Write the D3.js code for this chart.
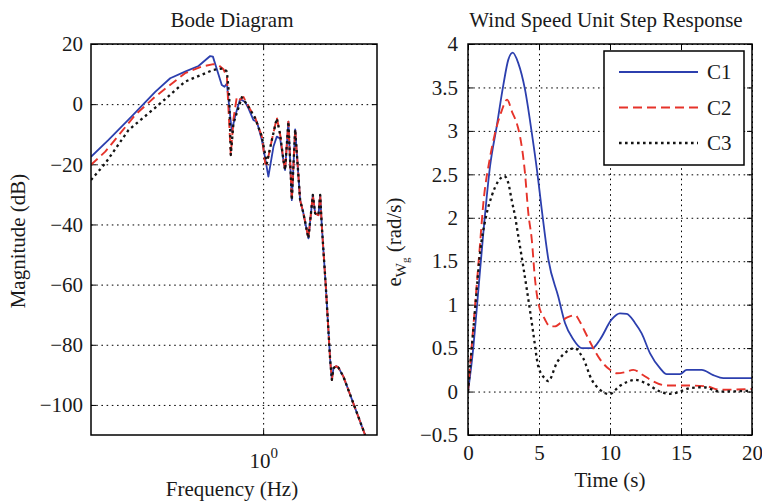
<!DOCTYPE html>
<html>
<head>
<meta charset="utf-8">
<script src="https://cdn.jsdelivr.net/npm/d3@7"></script>
<style>
  body { margin: 0; background: #fff; }
  svg { display: block; }
</style>
</head>
<body>
<svg id="chart" width="762" height="502"></svg>
<script>
// Bode magnitude, [frequency (Hz), magnitude (dB)] — low-frequency part per controller
const bodeC1Head = [
  [0.190,-17.5],[0.225,-11.9],[0.282,-4.0],[0.353,4.1],[0.408,8.6],[0.471,10.8],
  [0.536,12.7],[0.600,16.0],[0.616,15.8],[0.671,6.4],[0.689,5.8],[0.705,6.9],
  [0.721,-0.9],[0.739,-9.0],[0.763,-4.0],[0.801,1.7],[0.841,0.7],[0.868,-1.4],
  [0.911,-5.3],[0.941,-5.8],[0.988,-11.9],[1.020,-18.0],[1.052,-24.1],[1.105,-14.1],
  [1.141,-10.8],[1.178,-11.4],[1.216,-18.6]
];
const bodeC2Head = [
  [0.190,-20.2],[0.218,-15.8],[0.291,-3.6],[0.353,2.5],[0.471,10.3],[0.553,12.5],
  [0.619,13.3],[0.650,13.0],[0.682,11.6],[0.705,9.1],[0.715,-0.9],[0.732,-16.9],
  [0.751,-5.0],[0.776,2.5],[0.801,1.5],[0.827,2.4],[0.868,-0.8],[0.926,-4.5],
  [0.988,-10.8],[1.020,-19.7],[1.036,-20.0],[1.087,-12.0],[1.141,-4.5],[1.178,-10.0],
  [1.216,-18.6]
];
const bodeC3Head = [
  [0.190,-25.2],[0.218,-19.7],[0.273,-8.6],[0.364,-0.3],[0.471,7.5],[0.619,11.4],
  [0.682,11.9],[0.705,10.8],[0.721,2.5],[0.732,-16.9],[0.751,-6.4],[0.814,2.3],
  [0.868,-0.8],[0.926,-4.7],[0.988,-10.8],[1.036,-19.7],[1.087,-12.0],[1.141,-4.7],
  [1.178,-10.0],[1.216,-18.6]
];
// High-frequency part, common to all three controllers
const bodeTail = [
  [1.236,-21.9],[1.276,-5.8],[1.319,-31.9],[1.362,-8.4],[1.429,-31.9],[1.475,-36.3],
  [1.548,-44.6],[1.615,-30.2],[1.652,-36.3],[1.705,-36.9],[1.734,-30.2],[1.762,-40.7],
  [1.831,-60.7],[1.909,-85.0],[1.941,-91.7],[1.971,-87.8],[2.022,-87.1],[2.068,-87.6],
  [2.170,-90.6],[2.675,-110.0]
];

// Wind speed unit step response, [time (s), e_Wg (rad/s)]
const stepC1 = [
  [0,0],[0.37,0.5],[0.61,0.94],[1.12,1.9],[1.55,2.59],[2.02,3.05],[2.49,3.53],
  [2.84,3.82],[3.15,3.9],[3.54,3.78],[4.01,3.48],[4.49,2.98],[4.88,2.52],[5.19,2.1],
  [5.66,1.52],[6.36,1.09],[6.83,0.79],[7.42,0.6],[8.01,0.5],[8.76,0.5],[9.3,0.6],
  [10.12,0.83],[10.7,0.9],[11.18,0.895],[11.76,0.79],[12.23,0.67],[12.82,0.44],
  [13.52,0.27],[13.99,0.2],[14.93,0.2],[15.4,0.25],[16.46,0.25],[17.27,0.19],
  [17.98,0.155],[20,0.155]
];
const stepC2 = [
  [0,0],[0.49,0.98],[0.8,1.6],[1.1,2.2],[1.5,2.65],[1.9,2.97],[2.37,3.23],[2.75,3.36],
  [3.1,3.22],[3.43,3.09],[3.66,2.94],[4.01,2.52],[4.25,2.05],[4.49,1.75],[4.72,1.29],
  [4.95,1.02],[5.42,0.83],[5.77,0.75],[6.1,0.75],[6.95,0.85],[7.54,0.88],[7.89,0.8],
  [8.2,0.7],[8.82,0.5],[9.3,0.37],[10.0,0.25],[10.47,0.21],[11.0,0.22],[11.64,0.25],
  [12.32,0.19],[12.9,0.13],[13.99,0.07],[15.4,0.07],[16.8,0.06],[17.75,0.02],[20,0.03]
];
const stepC3 = [
  [0,0],[0.5,0.95],[0.85,1.6],[1.25,2.0],[1.67,2.25],[2.13,2.42],[2.55,2.48],[2.84,2.4],
  [3.08,2.2],[3.31,2.02],[3.54,1.79],[3.89,1.44],[4.25,1.06],[4.6,0.67],[4.95,0.29],
  [5.42,0.15],[5.66,0.12],[6.25,0.33],[6.95,0.46],[7.54,0.5],[7.89,0.44],[8.12,0.38],
  [8.7,0.14],[9.3,0.02],[9.95,-0.03],[10.7,0.066],[11.2,0.11],[11.76,0.135],[12.58,0.09],
  [13.52,0],[14.23,-0.026],[14.93,0],[15.63,0.04],[16.57,0.05],[17.75,0],[20,0.01]
];

const magTicks = [20, 0, -20, -40, -60, -80, -100];
const freqTicks = [1];
const timeTicks = [0, 5, 10, 15, 20];
const respTicks = [4, 3.5, 3, 2.5, 2, 1.5, 1, 0.5, 0, -0.5];

const seriesNames = ["C1", "C2", "C3"];
const seriesColors = ["#2c3fae", "#e6332a", "#141414"];
const seriesDash = [null, "9,5", "2.6,3.4"];
const seriesWidth = [1.8, 1.9, 2.3];

const FONT = "'Liberation Serif', 'Times New Roman', Times, serif";
const FS = 21;
const INK = "#1a1a1a";

const svg = d3.select("#chart")
  .attr("font-family", FONT);

const boxL = { left: 91, right: 377, top: 44, bottom: 435 };
const boxR = { left: 468, right: 752, top: 44, bottom: 435 };

const xF = d3.scaleLog().domain([0.19, 3]).range([boxL.left, boxL.right]);
const yM = d3.scaleLinear().domain([-110, 20]).range([boxL.bottom, boxL.top]);
const xT = d3.scaleLinear().domain([0, 20]).range([boxR.left, boxR.right]);
const yR = d3.scaleLinear().domain([-0.5, 4]).range([boxR.bottom, boxR.top]);

function label(sel) {
  return sel.attr("font-family", FONT).attr("font-size", FS).attr("fill", INK);
}

function drawFrame(id, box, x, y, xTicks, yTicks, xFmt, yFmt, yPad) {
  const w = box.right - box.left, h = box.bottom - box.top;
  const g = svg.append("g");

  // dotted grid
  const gx = g.append("g").attr("transform", `translate(0,${box.bottom})`)
    .call(d3.axisBottom(x).tickValues(xTicks).tickSize(-h).tickFormat(""));
  const gy = g.append("g").attr("transform", `translate(${box.left},0)`)
    .call(d3.axisLeft(y).tickValues(yTicks).tickSize(-w).tickFormat(""));
  [gx, gy].forEach(a => {
    a.select(".domain").remove();
    a.selectAll("line").attr("stroke", "#000").attr("stroke-width", 1)
      .attr("stroke-dasharray", "1.6,3.6");
  });

  // clip region for the curves
  svg.append("clipPath").attr("id", id)
    .append("rect").attr("x", box.left).attr("y", box.top).attr("width", w).attr("height", h);

  // inward ticks on all four sides, labels on bottom and left
  const tick = 5;
  const bottom = g.append("g").attr("transform", `translate(0,${box.bottom})`)
    .call(d3.axisBottom(x).tickValues(xTicks).tickSize(-tick).tickPadding(10).tickFormat(xFmt));
  const top = g.append("g").attr("transform", `translate(0,${box.top})`)
    .call(d3.axisTop(x).tickValues(xTicks).tickSize(-tick).tickFormat(""));
  const leftAx = g.append("g").attr("transform", `translate(${box.left},0)`)
    .call(d3.axisLeft(y).tickValues(yTicks).tickSize(-tick).tickPadding(yPad).tickFormat(yFmt));
  const rightAx = g.append("g").attr("transform", `translate(${box.right},0)`)
    .call(d3.axisRight(y).tickValues(yTicks).tickSize(-tick).tickFormat(""));
  [bottom, top, leftAx, rightAx].forEach(a => {
    a.attr("font-family", FONT).attr("font-size", FS);
    a.select(".domain").remove();
    a.selectAll("line").attr("stroke", "#000").attr("stroke-width", 1);
    label(a.selectAll("text"));
  });

  return { g, bottom };
}

function drawBorder(box) {
  svg.append("rect")
    .attr("x", box.left).attr("y", box.top)
    .attr("width", box.right - box.left).attr("height", box.bottom - box.top)
    .attr("fill", "none").attr("stroke", "#000").attr("stroke-width", 1.5);
}

// ---- Bode diagram ----
const leftPanel = drawFrame("clipL", boxL, xF, yM, freqTicks, magTicks, () => "", d3.format("d"), 8);
leftPanel.bottom.selectAll(".tick text").each(function () {
  const t = d3.select(this).attr("dy", null).attr("y", 33);
  t.append("tspan").text("10");
  t.append("tspan").attr("dy", -10).attr("font-size", 15).text("0");
});

const bodeSeries = [bodeC1Head.concat(bodeTail), bodeC2Head.concat(bodeTail), bodeC3Head.concat(bodeTail)];
const bodeLine = d3.line().x(d => xF(d[0])).y(d => yM(d[1]));
const bodeG = svg.append("g").attr("clip-path", "url(#clipL)");
bodeSeries.forEach((s, i) => {
  bodeG.append("path").datum(s).attr("d", bodeLine)
    .attr("fill", "none").attr("stroke", seriesColors[i])
    .attr("stroke-width", seriesWidth[i])
    .attr("stroke-dasharray", seriesDash[i])
    .attr("stroke-linejoin", "round");
});
drawBorder(boxL);

label(svg.append("text")).attr("x", 232).attr("y", 27)
  .attr("text-anchor", "middle").text("Bode Diagram");
label(svg.append("text")).attr("x", 232).attr("y", 496)
  .attr("text-anchor", "middle").text("Frequency (Hz)");
label(svg.append("text")).attr("transform", `translate(25,241) rotate(-90)`)
  .attr("text-anchor", "middle").text("Magnitude (dB)");

// ---- Step response ----
drawFrame("clipR", boxR, xT, yR, timeTicks, respTicks, d3.format("d"), d3.format("~g"), 10);

const stepSeries = [stepC1, stepC2, stepC3];
const stepLine = d3.line().x(d => xT(d[0])).y(d => yR(d[1])).curve(d3.curveMonotoneX);
const stepG = svg.append("g").attr("clip-path", "url(#clipR)");
stepSeries.forEach((s, i) => {
  stepG.append("path").datum(s).attr("d", stepLine)
    .attr("fill", "none").attr("stroke", seriesColors[i])
    .attr("stroke-width", seriesWidth[i])
    .attr("stroke-dasharray", seriesDash[i])
    .attr("stroke-linejoin", "round");
});

// legend
const leg = svg.append("g");
leg.append("rect").attr("x", 604).attr("y", 51).attr("width", 140).attr("height", 114)
  .attr("fill", "#fff").attr("stroke", "#000").attr("stroke-width", 1.5);
seriesNames.forEach((name, i) => {
  const yy = 72 + i * 35.5;
  leg.append("line").attr("x1", 619).attr("x2", 698).attr("y1", yy).attr("y2", yy)
    .attr("stroke", seriesColors[i]).attr("stroke-width", seriesWidth[i])
    .attr("stroke-dasharray", seriesDash[i]);
  label(leg.append("text")).attr("x", 707).attr("y", yy + 7).text(name);
});
drawBorder(boxR);

label(svg.append("text")).attr("x", 606).attr("y", 27)
  .attr("text-anchor", "middle")
  .text("Wind Speed Unit Step Response");
label(svg.append("text")).attr("x", 610).attr("y", 487)
  .attr("text-anchor", "middle").text("Time (s)");

const yl = label(svg.append("text"))
  .attr("transform", `translate(401,242) rotate(-90)`)
  .attr("text-anchor", "middle");
yl.append("tspan").text("e");
yl.append("tspan").attr("font-size", 15).attr("dy", 5).text("W");
yl.append("tspan").attr("font-size", 11).attr("dy", 3).text("g");
yl.append("tspan").attr("dy", -8).text(" (rad/s)");
</script>
</body>
</html>
